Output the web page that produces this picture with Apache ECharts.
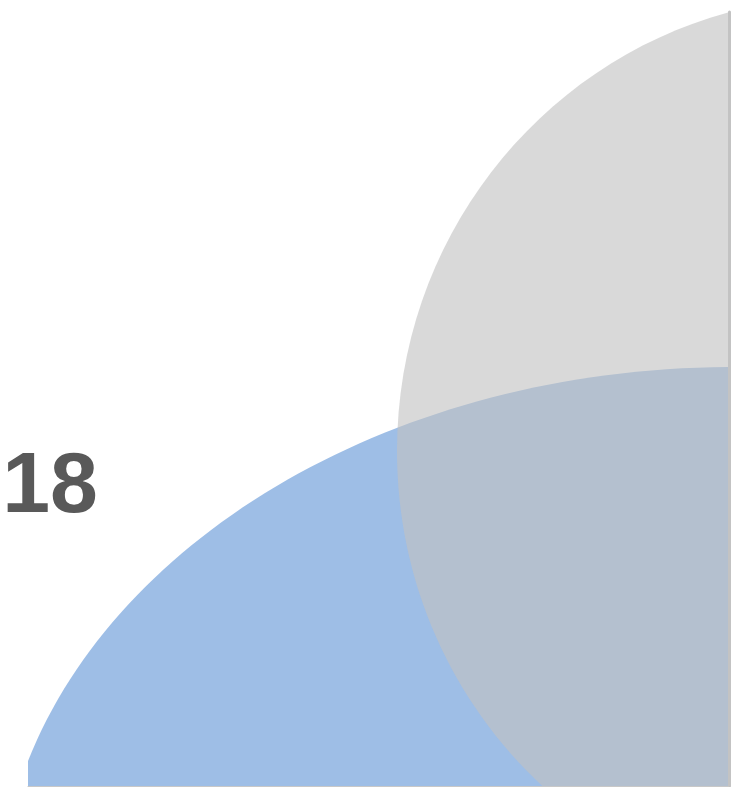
<!DOCTYPE html>
<html>
<head>
<meta charset="utf-8">
<script src="https://cdn.jsdelivr.net/npm/echarts@6/dist/echarts.min.js"></script>
<style>
html,body{margin:0;padding:0;background:#ffffff;}
#chart{width:731px;height:787px;}
</style>
</head>
<body>
<div id="chart"></div>
<script>
// Venn sets (data coordinates in the plot's own units)
const sets = ['A', 'B'];
const centerX = [734, 844];
const centerY = [917, 451];
const radiusX = [736, 447];
const radiusY = [550, 454];

// region label
const labelText = ['18'];
const labelX = [50];
const labelY = [488];

const fills = ['#9ebee6', 'rgba(193,193,193,0.615)'];

const chart = echarts.init(document.getElementById('chart'), null, {renderer: 'canvas'});

chart.setOption({
  animation: false,
  backgroundColor: '#ffffff',
  grid: {left: 28, right: 3, top: 12, bottom: 1, containLabel: false},
  xAxis: {
    type: 'value', min: 28, max: 728,
    axisLine: {show: true, onZero: false, lineStyle: {color: '#c8c8c8', width: 1}},
    offset: 0.5,
    axisTick: {show: false}, axisLabel: {show: false}, splitLine: {show: false},
    z: 10
  },
  yAxis: {
    type: 'value', min: 12, max: 786, inverse: true, position: 'right',
    axisLine: {show: true, onZero: false, lineStyle: {color: '#c3c3c3', width: 3}},
    offset: 1.5,
    axisTick: {show: false}, axisLabel: {show: false}, splitLine: {show: false},
    z: 10
  },
  series: [
    {
      type: 'custom',
      name: 'sets',
      clip: true,
      encode: {x: 0, y: 1},
      data: sets.map((s, i) => ({name: s, value: [centerX[i], centerY[i], radiusX[i], radiusY[i]]})),
      renderItem: function (params, api) {
        const i = params.dataIndex;
        const c = api.coord([api.value(0), api.value(1)]);
        const sz = api.size([api.value(2), api.value(3)]);
        return {
          type: 'ellipse',
          shape: {cx: c[0], cy: c[1], rx: Math.abs(sz[0]), ry: Math.abs(sz[1])},
          style: {fill: fills[i], stroke: null}
        };
      },
      z: 2
    },
    {
      type: 'custom',
      name: 'labels',
      clip: false,
      encode: {x: 0, y: 1},
      data: labelText.map((t, i) => ({name: t, value: [labelX[i], labelY[i]]})),
      renderItem: function (params, api) {
        const i = params.dataIndex;
        const c = api.coord([api.value(0), api.value(1)]);
        return {
          type: 'text',
          x: c[0], y: c[1],
          style: {
            text: labelText[i],
            fill: '#595959',
            font: 'bold 86px "Liberation Sans", Arial, sans-serif',
            align: 'center',
            verticalAlign: 'middle'
          }
        };
      },
      z: 5
    }
  ]
});
</script>
</body>
</html>
